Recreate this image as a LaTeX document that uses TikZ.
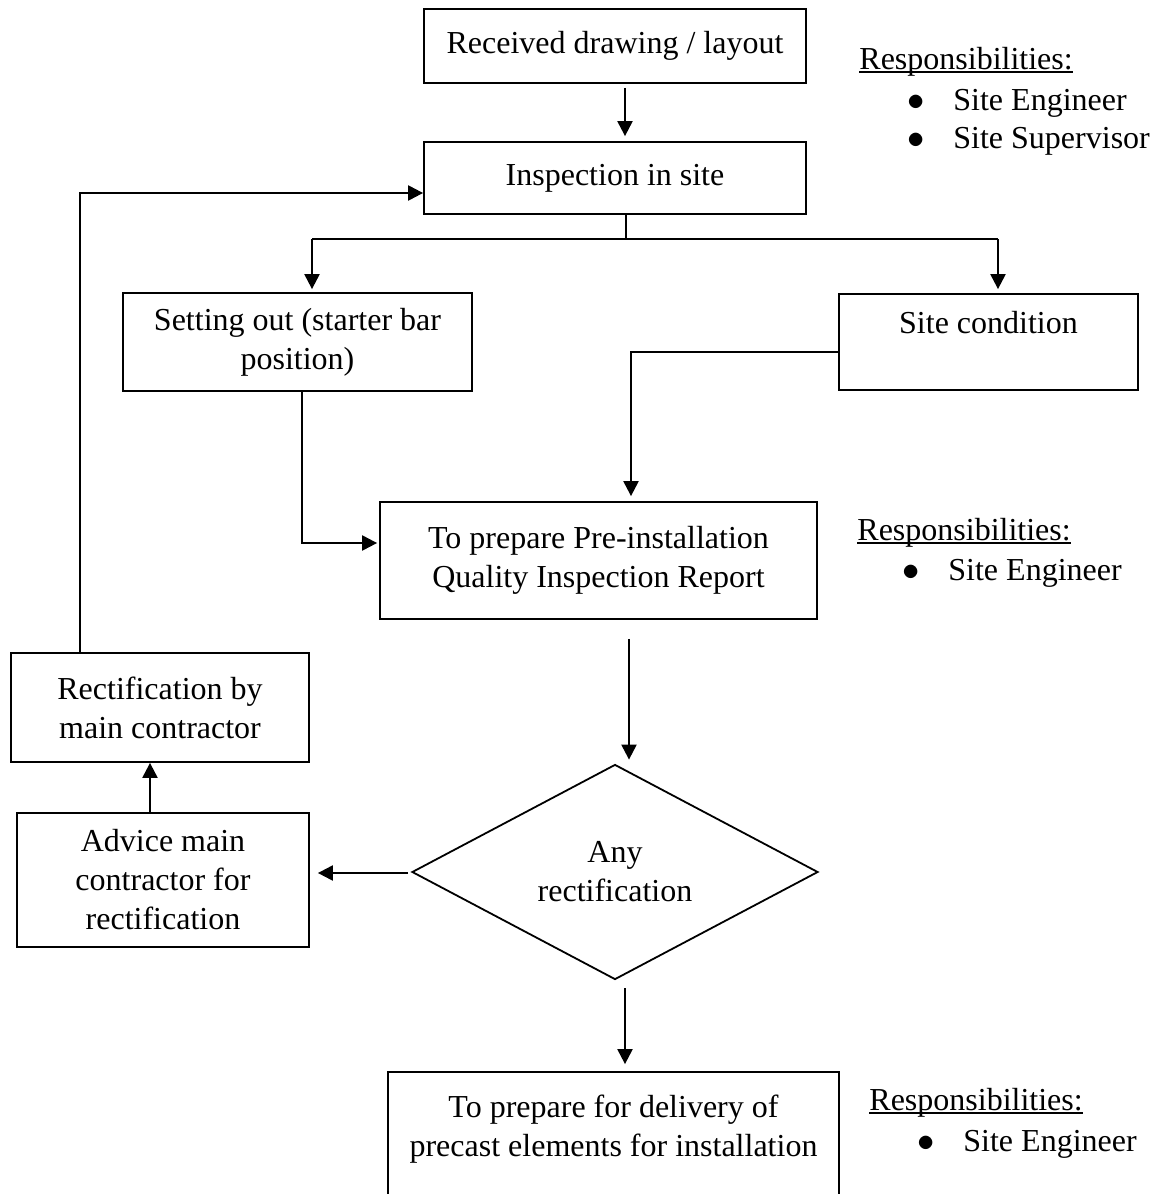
\documentclass[tikz,border=0pt]{standalone}
\usepackage{fontspec}
\setmainfont{Liberation Serif}
\usetikzlibrary{shapes.geometric, arrows.meta, positioning, calc}

\newcommand{\respline}[1]{\setbox0\hbox{#1}\rlap{\rule[-2pt]{\wd0}{0.8pt}}\box0}
\newcommand{\respitem}[1]{\makebox[23pt][l]{$\bullet$}#1}

\begin{document}
\begin{tikzpicture}[
        x=0.5pt, y=-0.5pt,
        font=\fontsize{16}{19.5}\selectfont,
        >={Triangle[length=7.5pt, width=7.5pt]},
        box/.style={
            draw,
            rectangle,
            line width=0.9pt,
            inner sep=0pt,
            align=center
        },
        decision/.style={
            draw,
            diamond,
            line width=0.9pt,
            inner sep=0pt,
            minimum width=203pt,
            minimum height=100.5pt,
            align=center
        },
        resp/.style={anchor=base west, inner sep=0pt},
        line/.style={draw, line width=0.65pt},
        line_arrow/.style={draw, line width=1.1pt, ->}
    ]
    \useasboundingbox (0,0) rectangle (1162,1194);

    % Main flow
    \node[box, minimum width=191pt, minimum height=37pt] (recv) at (615,46) {Received drawing / layout};
    \node[box, minimum width=191pt, minimum height=36pt] (insp) at (615,178) {Inspection in site};
    \node[box, minimum width=174.5pt, minimum height=49pt] (setout) at (297.5,342) {Setting out (starter bar\\position)};
    \node[box, minimum width=149.5pt, minimum height=48pt] (sitecond) at (988.5,342) {Site condition\\\mbox{}};
    \node[box, minimum width=218.5pt, minimum height=58.5pt] (report) at (598.5,560.5) {To prepare Pre-installation\\Quality Inspection Report};
    \node[decision] (anyrect) at (615,872) {Any\\rectification};
    \node[box, minimum width=225.5pt, minimum height=73pt] (deliver) at (613.5,1145) {To prepare for delivery of\\precast elements for installation\\\mbox{}};

    % Rectification loop
    \node[box, minimum width=149pt, minimum height=54.5pt] (rect) at (160,707.5) {Rectification by\\main contractor};
    \node[box, minimum width=146pt, minimum height=67pt] (advice) at (163,880) {Advice main\\contractor for\\rectification};

    % Responsibilities
    \node[resp] (resp1) at (859,69) {\respline{Responsibilities:}};
    \node[resp] (resp1a) at (907,110) {\respitem{Site Engineer}};
    \node[resp] (resp1b) at (907,148) {\respitem{Site Supervisor}};

    \node[resp] (resp2) at (857,540) {\respline{Responsibilities:}};
    \node[resp] (resp2a) at (902,580) {\respitem{Site Engineer}};

    \node[resp] (resp3) at (869,1110) {\respline{Responsibilities:}};
    \node[resp] (resp3a) at (917,1151) {\respitem{Site Engineer}};

    % Connectors
    \draw[line_arrow, shorten <=2pt, shorten >=2.5pt] ($(recv.south)+(10,0)$) -- ($(insp.north)+(10,0)$);

    \coordinate (fork) at (626,239);
    \coordinate (forkL) at (312,239);
    \coordinate (forkR) at (998,239);
    \draw[line] ($(insp.south)+(11,0)$) -- (fork);
    \draw[line] (forkL) -- (forkR);
    \draw[line_arrow, shorten >=1.5pt] (forkL) -- (forkL |- setout.north);
    \draw[line_arrow, shorten >=2pt] (forkR) -- (forkR |- sitecond.north);

    \draw[line_arrow, shorten >=2.5pt] ($(sitecond.west)+(0,10)$) -| ($(report.north)+(32.5,0)$);
    \draw[line_arrow, shorten >=1pt] ($(setout.south)+(4.5,0)$) |- ($(report.west)+(0,-17.5)$);

    \draw[line_arrow, shorten <=9.5pt, shorten >=2pt] ($(report.south)+(30.5,0)$) -- ($(anyrect.north)+(14,0)$);
    \draw[line_arrow, shorten <=4pt, shorten >=3.5pt] ($(anyrect.south)+(10,0)$) -- ($(deliver.north)+(11.5,0)$);
    \draw[line_arrow, shorten <=1.5pt, shorten >=4pt] ($(anyrect.west)+(0,1)$) -- ($(advice.east)+(0,-7)$);
    \draw[line_arrow] ($(advice.north)+(-13,0)$) -- ($(rect.south)+(-10,0)$);
    \draw[line_arrow] ($(rect.north)+(-80,0)$) |- ($(insp.west)+(0,15)$);

\end{tikzpicture}
\end{document}
